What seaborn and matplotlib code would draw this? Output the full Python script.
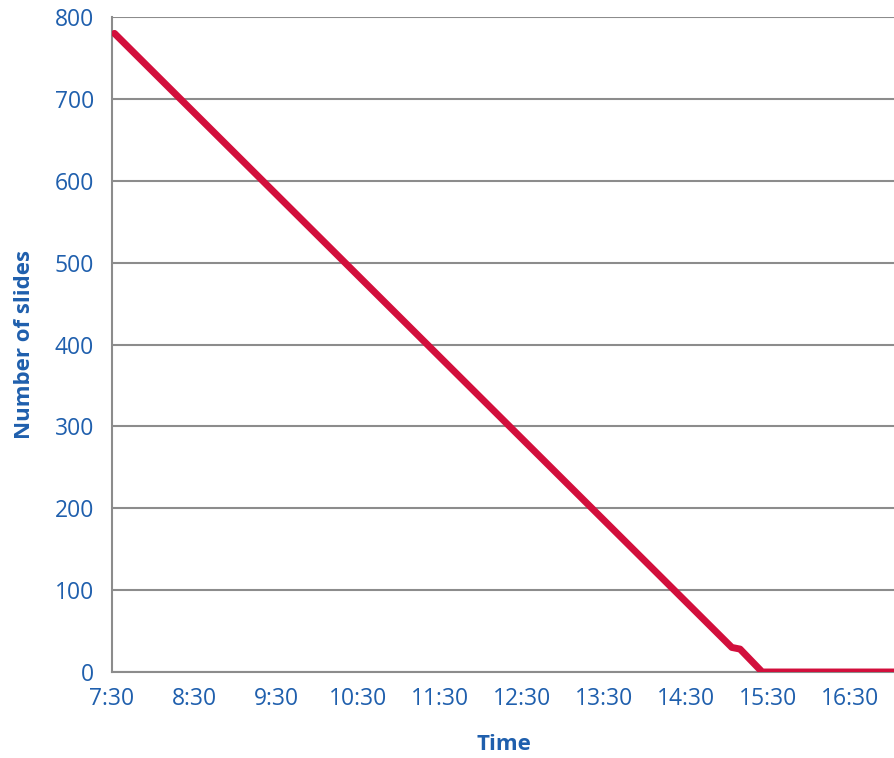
import pandas as pd
import seaborn as sns
import matplotlib.pyplot as plt

# time as hours after 7:30, slides remaining
hours = [0.03, 7.56, 7.66, 7.93, 9.6]
slides = [780, 30, 28, 0, 0]
tick_labels = ["7:30", "8:30", "9:30", "10:30", "11:30", "12:30",
               "13:30", "14:30", "15:30", "16:30"]
y_ticks = [0, 100, 200, 300, 400, 500, 600, 700, 800]

df = pd.DataFrame({"Time": hours, "Slides": slides})

blue = "#1F5FAD"
grey = "#8C8C8C"

sns.set_theme(style="white")
plt.rcParams["font.family"] = ["Open Sans", "DejaVu Sans"]

fig = plt.figure(figsize=(8.95, 7.58), dpi=100)
ax = fig.add_axes([112 / 895, 1 - 672 / 758, 1 - 112 / 895, (672 - 17) / 758])

sns.lineplot(data=df, x="Time", y="Slides", ax=ax, color="#D20F3C",
             linewidth=5, solid_capstyle="round", solid_joinstyle="round",
             zorder=3)

ax.set_xlim(0, 9.55)
ax.set_ylim(0, 800)
ax.set_xticks(range(len(tick_labels)))
ax.set_xticklabels(tick_labels)
ax.set_yticks(y_ticks)
ax.yaxis.grid(True, color=grey, linewidth=1.5)
ax.set_axisbelow(True)

for side in ["top", "right"]:
    ax.spines[side].set_visible(False)
for side in ["left", "bottom"]:
    ax.spines[side].set_color(grey)
    ax.spines[side].set_linewidth(1.5)
ax.spines["bottom"].set_zorder(2)

ax.tick_params(axis="both", colors=grey, labelcolor=blue, labelsize=16.5,
               length=7, width=1.5, direction="out")
ax.tick_params(axis="x", pad=4)
ax.tick_params(axis="y", pad=6)

ax.set_xlabel("Time", color=blue, fontsize=16, fontweight="bold", labelpad=16)
ax.set_ylabel("Number of slides", color=blue, fontsize=16, fontweight="bold",
              labelpad=14)

plt.savefig("out.png", dpi=100)
